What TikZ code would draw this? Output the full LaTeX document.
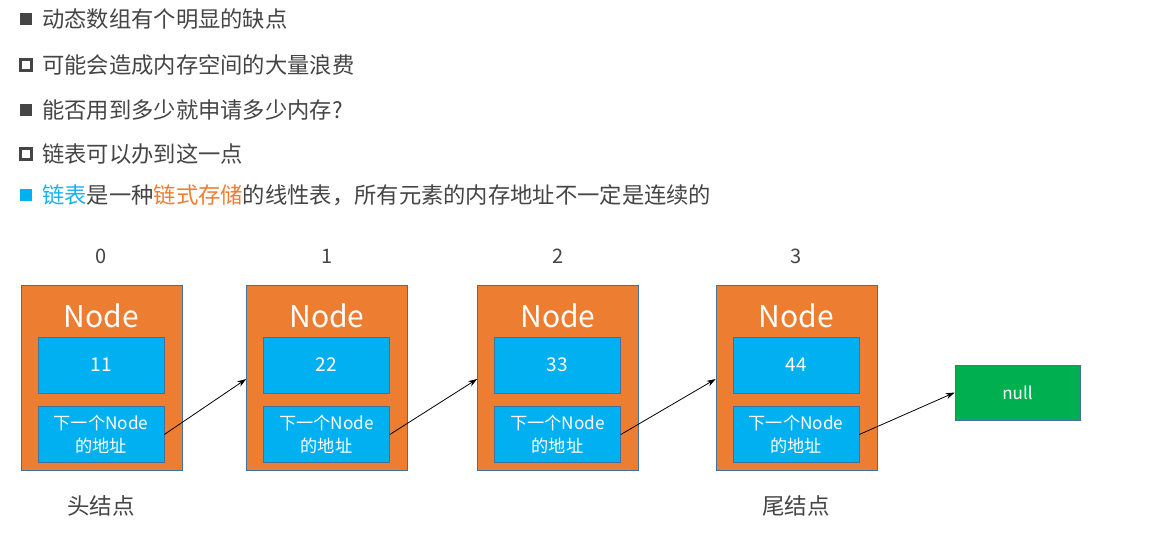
\documentclass[tikz,border=0pt]{standalone}
\usepackage{fontspec}
\setmainfont{Noto Sans CJK SC}
\usetikzlibrary{arrows.meta}
\definecolor{txtgray}{HTML}{454545}
\definecolor{nodeorange}{HTML}{ED7D31}
\definecolor{cellblue}{HTML}{00B0F0}
\definecolor{nullgreen}{HTML}{00B050}
\definecolor{edgeblue}{HTML}{41719C}
\definecolor{hlblue}{HTML}{1AB3F0}
\definecolor{hlorange}{HTML}{F07D30}
\begin{document}
\begin{tikzpicture}[x=1pt,y=-1pt,
  line/.style={font=\fontsize{22.3}{26}\selectfont, text=txtgray, anchor=west, inner sep=0pt},
  bulletfull/.style={fill=txtgray, draw=none, minimum size=12pt, inner sep=0pt},
  bullethollow/.style={draw=txtgray, line width=2.6pt, fill=white, minimum size=10.5pt, inner sep=0pt},
  bulletblue/.style={fill=cellblue, draw=none, minimum size=12pt, inner sep=0pt},
  outerbox/.style={fill=nodeorange, draw=edgeblue, line width=0.6pt, minimum width=161pt, minimum height=185pt, inner sep=0pt},
  cellbox/.style={fill=cellblue, draw=edgeblue, line width=0.6pt, minimum width=126pt, minimum height=56pt, inner sep=0pt, text=white, align=center},
  nodetitle/.style={text=white, font=\fontsize{30}{34}\selectfont, inner sep=0pt},
  index/.style={text=txtgray, font=\fontsize{20}{24}\selectfont, inner sep=0pt},
  caption/.style={text=txtgray, font=\fontsize{22.5}{26}\selectfont, inner sep=0pt},
  link/.style={-{Stealth[length=9pt,width=6pt]}, line width=0.8pt, black}
]
\useasboundingbox (0,0) rectangle (1175,533);
\fill[white] (0,0) rectangle (1175,533);

% bullet list
\node[bulletfull] (b1) at (26,19) {};
\node[line] (t1) at (42,19) {动态数组有个明显的缺点};
\node[bullethollow] (b2) at (26,65) {};
\node[line] (t2) at (42,65) {可能会造成内存空间的大量浪费};
\node[bulletfull] (b3) at (26,110) {};
\node[line] (t3) at (42,110) {能否用到多少就申请多少内存?};
\node[bullethollow] (b4) at (26,154) {};
\node[line] (t4) at (42,154) {链表可以办到这一点};
\node[bulletblue] (b5) at (26,195) {};
\node[line] (t5) at (42,195) {\textcolor{hlblue}{链表}是一种\textcolor{hlorange}{链式存储}的线性表，所有元素的内存地址不一定是连续的};

% linked list nodes
\foreach \i/\cx/\val in {0/101.5/11, 1/327/22, 2/558/33, 3/796.5/44} {
  \node[index] (idx\i) at (\cx,256) {\i};
  \node[outerbox] (n\i) at (\cx,377.5) {};
  \node[nodetitle] (title\i) at (\cx,316) {Node};
  \node[cellbox, font=\fontsize{19}{22}\selectfont] (val\i) at (\cx-0.5,365) {\val};
  \node[cellbox, font=\fontsize{17.2}{24}\selectfont] (next\i) at (\cx-0.5,434.5) {下一个Node\\[-1pt]的地址};
}

\node[fill=nullgreen, draw=edgeblue, line width=0.6pt, minimum width=125pt, minimum height=55pt, inner sep=0pt, text=white, font=\fontsize{17}{20}\selectfont] (null) at (1017.5,392.5) {null};

% pointers
\draw[link] (next0.east) -- (n1.west |- 0,379);
\draw[link] (next1.east) -- (n2.west |- 0,379);
\draw[link] (next2.east) -- (n3.west |- 0,379);
\draw[link] (next3.east) -- (null.west);

\node[caption] (head) at (101,506) {头结点};
\node[caption] (tail) at (796,506) {尾结点};
\end{tikzpicture}
\end{document}
